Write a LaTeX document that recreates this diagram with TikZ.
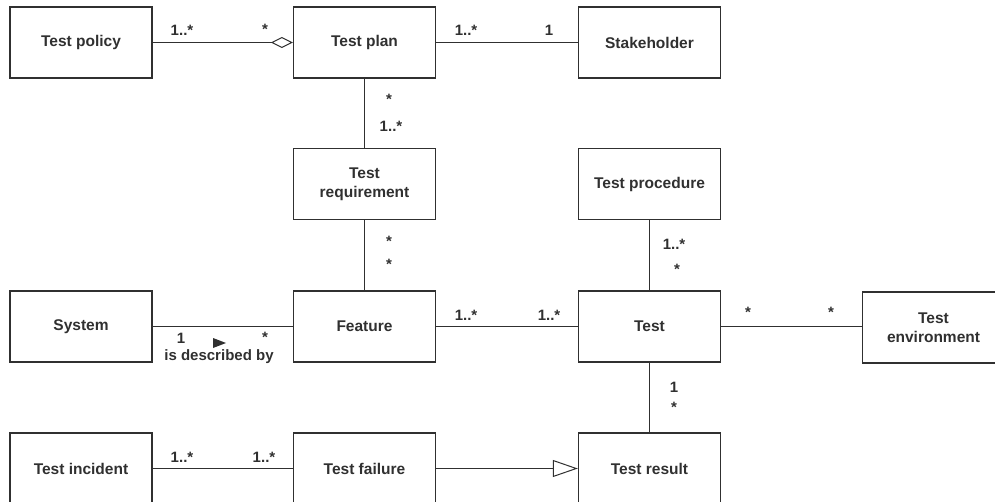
\documentclass[tikz,border=0pt]{standalone}
\usepackage{fontspec}
\setmainfont{Liberation Sans}
\usetikzlibrary{arrows.meta}
\definecolor{ink}{HTML}{303030}
\begin{document}
\begin{tikzpicture}[x=1pt,y=-1pt,
  cls/.style={draw=ink, line width=1.4pt, minimum width=142pt, minimum height=71pt,
    inner sep=0pt, align=center, text=ink,
    font=\fontsize{15.5}{19}\selectfont\bfseries},
  assoc/.style={draw=ink, line width=1.4pt},
  mult/.style={anchor=base, inner sep=0pt, text=ink,
    font=\fontsize{15}{17}\selectfont\bfseries},
  agg/.style={-{Diamond[open, length=22pt, width=11pt, line width=1pt]}},
  gen/.style={-{Triangle[open, length=25pt, width=17pt, line width=1pt]}},
]
\clip (0,0) rectangle (995,502);

% classes
\node[cls] (policy)  at (81,42.5)    {Test policy};
\node[cls] (plan)    at (364.5,42.5) {Test plan};
\node[cls] (stake)   at (649.5,42.5) {Stakeholder};
\node[cls] (req)     at (364.5,184)  {Test\\requirement};
\node[cls] (proc)    at (649.5,184)  {Test procedure};
\node[cls] (system)  at (81,326.5)   {System};
\node[cls] (feature) at (364.5,326.5){Feature};
\node[cls] (test)    at (649.5,326.5){Test};
\node[cls] (env)     at (933.5,327.5){Test\\environment};
\node[cls] (incident)at (81,468.5)   {Test incident};
\node[cls] (failure) at (364.5,468.5){Test failure};
\node[cls] (result)  at (649.5,468.5){Test result};

% associations
\draw[assoc, agg] (policy) -- (plan);
\draw[assoc] (plan) -- (stake);
\draw[assoc] (plan) -- (req);
\draw[assoc] (req) -- (feature);
\draw[assoc] (system) -- (feature);
\draw[assoc] (feature) -- (test);
\draw[assoc] (proc) -- (test);
\draw[assoc] (test.east) -- (test.east -| env.west);
\draw[assoc] (test) -- (result);
\draw[assoc] (incident) -- (failure);
\draw[assoc, gen] (failure) -- (result);

% multiplicities
\node[mult] (m1) at (182,36) {1..*};
\node[mult] (m2) at (265,35) {*};
\node[mult] (m3) at (466,36) {1..*};
\node[mult] (m4) at (549,36) {1};
\node[mult] (m5) at (389,105) {*};
\node[mult] (m6) at (391,132) {1..*};
\node[mult] (m7) at (389,247) {*};
\node[mult] (m8) at (389,270) {*};
\node[mult] (m9) at (181,343) {1};
\node[mult] (m10) at (265,342) {*};
\node[mult] (m11) at (466,320) {1..*};
\node[mult] (m12) at (549,320) {1..*};
\node[mult] (m13) at (674,250) {1..*};
\node[mult] (m14) at (677,275) {*};
\node[mult] (m15) at (748,318) {*};
\node[mult] (m16) at (831,318) {*};
\node[mult] (m17) at (674,392) {1};
\node[mult] (m18) at (674,412) {*};
\node[mult] (m19) at (182,462) {1..*};
\node[mult] (m20) at (264,462) {1..*};

% association name with reading direction
\node[mult] (descr) at (219,360) {is described by};
\fill[ink] (213,338) -- (226,343) -- (213,348) -- cycle;
\end{tikzpicture}
\end{document}
